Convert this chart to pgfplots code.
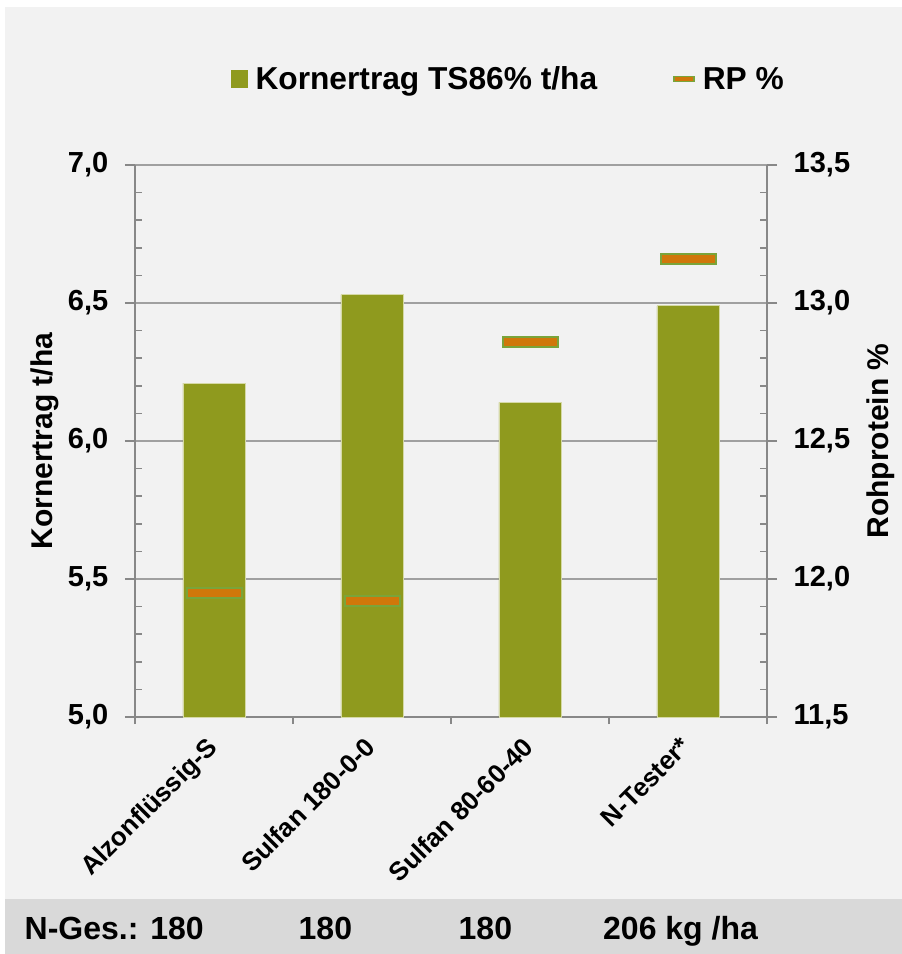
\documentclass[border=0pt]{standalone}
\usepackage{fontspec}
\setmainfont{Liberation Sans}
\usepackage{pgfplots}
\pgfplotsset{compat=1.18}

\definecolor{bg}{HTML}{F2F2F2}
\definecolor{band}{HTML}{D9D9D9}
\definecolor{barc}{HTML}{8F9A1E}
\definecolor{baredge}{HTML}{D5D9A5}
\definecolor{rpfill}{HTML}{D0770A}
\definecolor{rpedge}{HTML}{7AA43A}
\definecolor{axc}{HTML}{888888}
\definecolor{gridc}{HTML}{A0A0A0}

\pgfdeclareplotmark{rpbar}{\pgfpathrectangle{\pgfqpoint{-27.5pt}{-5pt}}{\pgfqpoint{55pt}{10pt}}\pgfusepathqfillstroke}

\newcommand\tfont{\fontsize{29}{29}\selectfont\bfseries}
\newcommand\xfont{\fontsize{26}{26}\selectfont\bfseries}
\newcommand\lfont{\fontsize{30}{30}\selectfont\bfseries}
\newcommand\legfont{\fontsize{31.7}{31.7}\selectfont\bfseries}
\newcommand\bfont{\fontsize{32}{32}\selectfont\bfseries}

\pgfplotsset{
  common/.style={
    at={(135pt,237pt)}, anchor=south west,
    scale only axis, width=632pt, height=552pt,
    xmin=-0.5, xmax=3.5,
    axis line style={draw=axc, line width=1.5pt},
    tick align=outside, major tick length=10pt, minor tick length=7pt,
    tick style={draw=axc, line width=1.5pt},
    /pgf/number format/assume math mode=true,
    /pgf/number format/fixed, /pgf/number format/fixed zerofill,
    /pgf/number format/precision=1, /pgf/number format/use comma,
    yticklabel style={font=\tfont, inner xsep=16.5pt},
  }
}

\begin{document}
\begin{tikzpicture}[x=1pt,y=1pt]
\fill[white] (0,0) rectangle (902,954);
\fill[bg] (5,55) rectangle (902,947);
\fill[band] (5,0) rectangle (902,55);

\begin{axis}[common,
  ymin=5, ymax=7,
  axis x line*=bottom, axis y line*=left,
  xtick={0,1,2,3},
  xticklabels={Alzonflüssig-S, Sulfan 180-0-0, Sulfan 80-60-40, N-Tester*},
  major x tick style={draw=none},
  minor xtick={-0.5,0.5,1.5,2.5,3.5},
  xticklabel style={font=\xfont, rotate=45, anchor=north east, inner ysep=0pt, inner xsep=12pt},
  ytick={5,5.5,6,6.5,7}, minor y tick num=4,
  minor y tick style={xshift=7pt},
  ymajorgrids, grid style={draw=gridc, line width=1.5pt},
  ylabel={Kornertrag t/ha},
  ylabel style={font=\lfont, at={(axis description cs:-0.13,0.5)}, anchor=base},
]
\addplot[ybar, bar width=62pt, fill=barc, draw=baredge, line width=0.8pt]
  coordinates {(0,6.21) (1,6.53) (2,6.14) (3,6.49)};
\end{axis}

\begin{axis}[common,
  ymin=11.5, ymax=13.5,
  axis x line=none, axis y line*=right,
  ytick={11.5,12,12.5,13,13.5}, minor y tick num=4,
  minor y tick style={xshift=-7pt},
  ylabel={Rohprotein \%},
  ylabel style={font=\lfont, at={(axis description cs:1.193,0.5)}, anchor=base},
  legend columns=2,
  legend style={at={(axis description cs:0.151,1.1558)}, anchor=west,
    draw=none, fill=none, font=\legfont, inner sep=0pt,
    nodes={inner xsep=3pt, inner ysep=0pt},
    /tikz/every odd column/.append style={column sep=5pt},
    /tikz/every even column/.append style={column sep=73pt}},
  legend cell align=left,
]
\addlegendimage{legend image code/.code={\fill[barc] (0pt,-8.5pt) rectangle (16.5pt,8.5pt);}}
\addlegendentry{Kornertrag TS86\% t/ha}
\addplot[only marks, mark=rpbar, mark options={fill=rpfill, draw=rpedge, line width=2pt},
  legend image code/.code={\draw[rpedge, fill=rpfill, line width=1.5pt] (0pt,-2.5pt) rectangle (20pt,2.5pt);}]
  coordinates {(0,11.95) (1,11.92) (2,12.86) (3,13.16)};
\addlegendentry{RP \%}
\end{axis}

\node[anchor=base west, inner sep=0pt, font=\bfont] at (24.5,14) {N-Ges.: 180};
\node[anchor=base west, inner sep=0pt, font=\bfont] at (298.5,14) {180};
\node[anchor=base west, inner sep=0pt, font=\bfont] at (458.5,14) {180};
\node[anchor=base west, inner sep=0pt, font=\bfont] at (603,14) {206 kg /ha};

\pgfresetboundingbox
\useasboundingbox (0,0) rectangle (902,954);
\end{tikzpicture}
\end{document}
